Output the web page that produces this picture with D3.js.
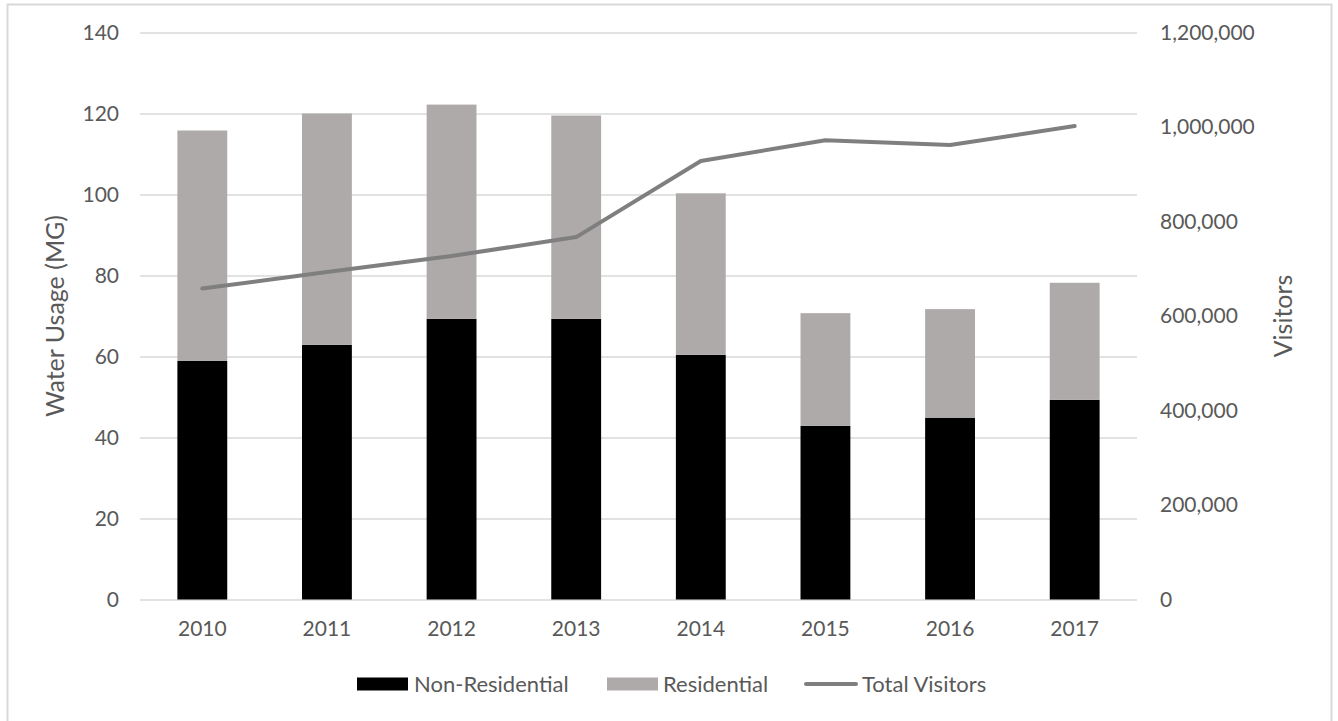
<!DOCTYPE html>
<html>
<head>
<meta charset="utf-8">
<script src="https://cdn.jsdelivr.net/npm/d3@7"></script>
<style>
  body { margin: 0; background: #fff; }
  svg text { font-family: Lato, "Open Sans", sans-serif; fill: #595959; }
</style>
</head>
<body>
<svg id="chart" width="1338" height="721"></svg>
<script>
// data
var years = ["2010", "2011", "2012", "2013", "2014", "2015", "2016", "2017"];
var nonResidential = [58.9, 62.9, 69.3, 69.3, 60.4, 42.9, 44.9, 49.3];
var residential = [56.9, 57.1, 52.9, 50.2, 39.9, 27.8, 26.8, 28.9];
var totalVisitors = [658000, 693000, 727000, 767000, 928000, 972000, 962000, 1002000];
var leftTicks = [0, 20, 40, 60, 80, 100, 120, 140];
var rightTicks = [0, 200000, 400000, 600000, 800000, 1000000, 1200000];

var svg = d3.select("#chart");
var fontSize = 21, legendSize = 22, titleSize = 25;
// (window.top is read-only, so plotTop etc.)
var plotLeft = 140, plotRight = 1137, plotTop = 32.5, plotBottom = 599.5;

// frame
svg.append("rect")
    .attr("x", 7.5).attr("y", 4.5)
    .attr("width", 1324).attr("height", 740)
    .attr("fill", "none")
    .attr("stroke", "#d9d9d9")
    .attr("stroke-width", 2);

var x = d3.scaleBand()
    .domain(years)
    .range([plotLeft, plotRight])
    .paddingInner(0.6)
    .paddingOuter(0.3);

var y = d3.scaleLinear().domain([0, 140]).range([plotBottom, plotTop]);
var y2 = d3.scaleLinear().domain([0, 1200000]).range([plotBottom, plotTop]);

// gridlines + left axis
var leftAxis = svg.append("g")
    .attr("transform", "translate(" + plotLeft + ",0)")
    .call(d3.axisLeft(y).tickValues(leftTicks).tickSize(-(plotRight - plotLeft)).tickPadding(21));
leftAxis.select(".domain").remove();
leftAxis.selectAll("line").attr("stroke", "#d9d9d9").attr("stroke-width", 1.5);
leftAxis.selectAll("text")
    .style("font-size", fontSize + "px")
    .attr("fill", "#595959");

// right axis
var fmt = d3.format(",");
var rightAxis = svg.append("g")
    .attr("transform", "translate(" + plotRight + ",0)")
    .call(d3.axisRight(y2).tickValues(rightTicks).tickSize(0).tickPadding(23).tickFormat(fmt));
rightAxis.select(".domain").remove();
rightAxis.selectAll("text")
    .style("font-size", fontSize + "px")
    .attr("fill", "#595959");

// bottom axis labels
var bottomAxis = svg.append("g")
    .attr("transform", "translate(0," + plotBottom + ")")
    .call(d3.axisBottom(x).tickSize(0).tickPadding(22));
bottomAxis.select(".domain").remove();
bottomAxis.selectAll("text")
    .style("font-size", fontSize + "px")
    .attr("fill", "#595959");

// stacked bars
var bars = svg.append("g");
bars.selectAll("rect.nonres")
    .data(years)
    .enter().append("rect")
    .attr("class", "nonres")
    .attr("x", function (d) { return x(d); })
    .attr("width", x.bandwidth())
    .attr("y", function (d, i) { return y(nonResidential[i]); })
    .attr("height", function (d, i) { return y(0) - y(nonResidential[i]); })
    .attr("fill", "#000000");

bars.selectAll("rect.res")
    .data(years)
    .enter().append("rect")
    .attr("class", "res")
    .attr("x", function (d) { return x(d); })
    .attr("width", x.bandwidth())
    .attr("y", function (d, i) { return y(nonResidential[i] + residential[i]); })
    .attr("height", function (d, i) { return y(nonResidential[i]) - y(nonResidential[i] + residential[i]); })
    .attr("fill", "#aeaaaa");

// visitors line
var line = d3.line()
    .x(function (d, i) { return x(years[i]) + x.bandwidth() / 2; })
    .y(function (d) { return y2(d); });

svg.append("path")
    .datum(totalVisitors)
    .attr("d", line)
    .attr("fill", "none")
    .attr("stroke", "#7f7f7f")
    .attr("stroke-width", 4)
    .attr("stroke-linejoin", "round")
    .attr("stroke-linecap", "round");

// axis titles
svg.append("text")
    .attr("transform", "translate(64," + ((plotTop + plotBottom) / 2) + ") rotate(-90)")
    .attr("text-anchor", "middle")
    .style("font-size", titleSize + "px")
    .text("Water Usage (MG)");

svg.append("text")
    .attr("transform", "translate(1292," + ((plotTop + plotBottom) / 2) + ") rotate(-90)")
    .attr("text-anchor", "middle")
    .style("font-size", titleSize + "px")
    .text("Visitors");

// legend
var legend = svg.append("g").attr("transform", "translate(0,684)");
legend.append("rect").attr("x", 357).attr("y", -6.5).attr("width", 51).attr("height", 13).attr("fill", "#000");
legend.append("text").attr("x", 414).attr("y", 8).style("font-size", legendSize + "px").text("Non-Residential");
legend.append("rect").attr("x", 607).attr("y", -6.5).attr("width", 51).attr("height", 13).attr("fill", "#aeaaaa");
legend.append("text").attr("x", 663).attr("y", 8).style("font-size", legendSize + "px").text("Residential");
legend.append("line").attr("x1", 806).attr("x2", 856).attr("y1", 0).attr("y2", 0)
    .attr("stroke", "#7f7f7f").attr("stroke-width", 4).attr("stroke-linecap", "round");
legend.append("text").attr("x", 862).attr("y", 8).style("font-size", legendSize + "px").text("Total Visitors");
</script>
</body>
</html>
